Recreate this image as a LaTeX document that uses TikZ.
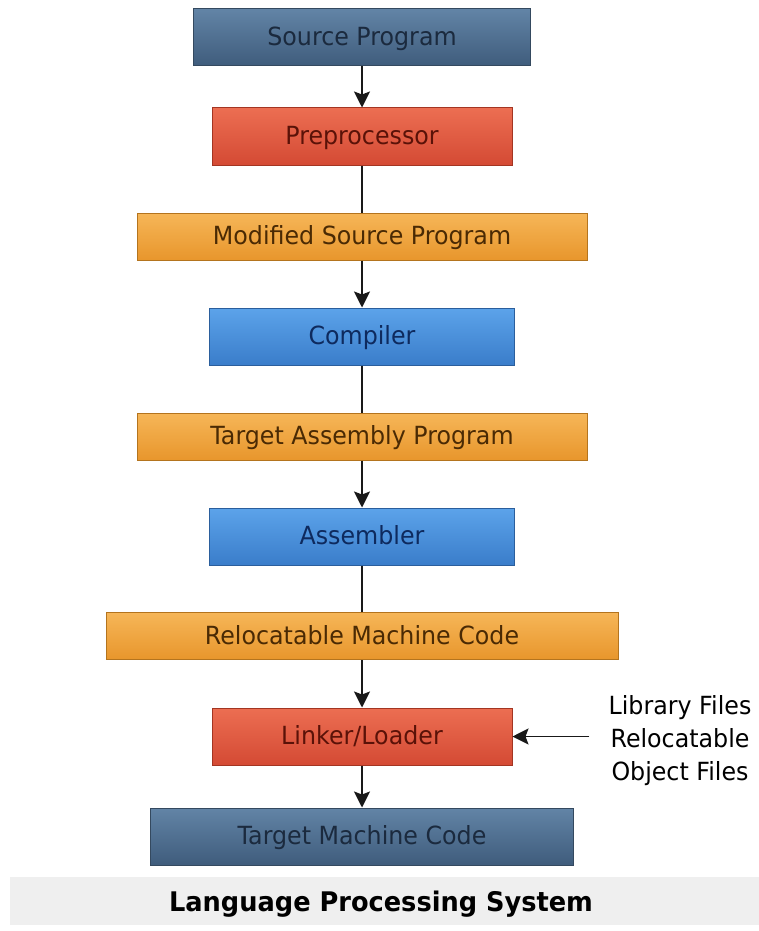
\documentclass[tikz,border=0pt]{standalone}
\usepackage{fontspec}
\setmainfont{DejaVu Sans}[FakeStretch=0.95]
\usetikzlibrary{arrows.meta}

% box colours: top/bottom of the shading, border, text
\definecolor{slatetop}{HTML}{6284A6}
\definecolor{slatebot}{HTML}{3F5C7C}
\definecolor{slateline}{HTML}{34495F}
\definecolor{slatetext}{HTML}{1B2A3E}
\definecolor{redtop}{HTML}{EC6E52}
\definecolor{redbot}{HTML}{D44A34}
\definecolor{redline}{HTML}{A33522}
\definecolor{redtext}{HTML}{5A1208}
\definecolor{orangetop}{HTML}{F6B658}
\definecolor{orangebot}{HTML}{E8962C}
\definecolor{orangeline}{HTML}{B4741E}
\definecolor{orangetext}{HTML}{4A2A04}
\definecolor{bluetop}{HTML}{5CA3EA}
\definecolor{bluebot}{HTML}{3A7DCA}
\definecolor{blueline}{HTML}{2B5E9C}
\definecolor{bluetext}{HTML}{0E2A5E}
\definecolor{bandgray}{HTML}{EFEFEF}

\tikzset{
    box/.style={draw, line width=1pt, inner sep=0pt, minimum height=57pt,
        text depth=3pt, font=\fontsize{25}{30}\selectfont},
    slatebox/.style={box, draw=slateline, top color=slatetop, bottom color=slatebot, text=slatetext},
    redbox/.style={box, draw=redline, top color=redtop, bottom color=redbot, text=redtext},
    orangebox/.style={box, minimum height=47pt, draw=orangeline, top color=orangetop, bottom color=orangebot, text=orangetext},
    bluebox/.style={box, draw=blueline, top color=bluetop, bottom color=bluebot, text=bluetext},
    link/.style={line width=1.8pt, color=black!90},
    flow/.style={link, -{Stealth[length=16pt,width=16pt,inset=3pt]}},
}

\begin{document}
\begin{tikzpicture}[x=1pt,y=-1pt]
    \useasboundingbox (0,0) rectangle (759,931);

    % main chain
    \node[slatebox, minimum width=337pt] (src) at (362,37.5) {Source Program};
    \node[redbox, minimum width=300pt] (pre) at (362,136.5) {Preprocessor};
    \node[orangebox, minimum width=450pt] (msp) at (362,236.5) {Modified Source Program};
    \node[bluebox, minimum width=305pt] (cmp) at (362,336.5) {Compiler};
    \node[orangebox, minimum width=450pt] (tap) at (362,436.5) {Target Assembly Program};
    \node[bluebox, minimum width=305pt] (asm) at (362,536.5) {Assembler};
    \node[orangebox, minimum width=512pt] (rmc) at (362,636) {Relocatable Machine Code};
    \node[redbox, minimum width=300pt] (ld) at (362,736.5) {Linker/Loader};
    \node[slatebox, minimum width=423pt] (tmc) at (362,836.5) {Target Machine Code};

    \draw[flow] (src) -- (pre);
    \draw[link] (pre) -- (msp);
    \draw[flow] (msp) -- (cmp);
    \draw[link] (cmp) -- (tap);
    \draw[flow] (tap) -- (asm);
    \draw[link] (asm) -- (rmc);
    \draw[flow] (rmc) -- (ld);
    \draw[flow] (ld) -- (tmc);

    % extra inputs of the linker
    \node[align=center, inner xsep=19pt, font=\fontsize{25}{33}\selectfont] (lib) at (680,741)
        {Library Files\\Relocatable\\Object Files};
    \draw[flow] (lib.west |- ld.east) -- (ld.east);

    % caption
    \fill[bandgray] (10,877) rectangle (759,925);
    \node[font=\fontsize{27}{32}\selectfont\bfseries] (title) at (381,904) {Language Processing System};
\end{tikzpicture}
\end{document}
